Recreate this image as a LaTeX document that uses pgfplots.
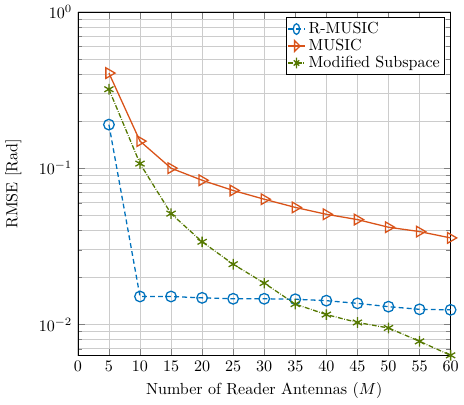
\documentclass[border=0pt]{standalone}
\usepackage{pgfplots}
\pgfplotsset{compat=1.18}
\definecolor{cblue}{RGB}{0,114,189}
\definecolor{corange}{RGB}{217,83,25}
\definecolor{cgreen}{RGB}{85,120,0}
\begin{document}
\begin{tikzpicture}
\begin{axis}[
  scale only axis,
  width=232pt, height=214pt,
  ymode=log,
  xmin=0, xmax=60, ymin=0.00631, ymax=1,
  xtick={0,5,...,60},
  grid=both,
  major grid style={gray!40, line width=0.5pt},
  minor grid style={gray!40, line width=0.5pt},
  tick align=inside,
  xlabel={Number of Reader Antennas ($M$)},
  ylabel={RMSE [Rad]},
  ylabel style={yshift=4pt},
  legend style={at={(0.985,0.985)}, anchor=north east, legend cell align=left, draw=black, fill=white, inner sep=1pt, row sep=-2pt},
  legend image post style={xscale=0.6},
]
\addplot[cblue, densely dashed, thick, mark=o, mark size=3.3pt, mark options={solid}] coordinates {
(5,0.19) (10,0.0151) (15,0.0151) (20,0.0148) (25,0.0146) (30,0.0146) (35,0.0145) (40,0.0142) (45,0.01365) (50,0.0130) (55,0.0125) (60,0.0124)};
\addlegendentry{R-MUSIC}
\addplot[corange, thick, mark=triangle, mark size=3.8pt, mark options={solid, rotate=-90}] coordinates {
(5,0.406) (10,0.149) (15,0.100) (20,0.0837) (25,0.072) (30,0.0633) (35,0.0561) (40,0.0507) (45,0.0469) (50,0.0419) (55,0.0393) (60,0.0358)};
\addlegendentry{MUSIC}
\addplot[cgreen, densely dashdotted, thick, mark=asterisk, mark size=3.3pt, mark options={solid}] coordinates {
(5,0.32) (10,0.107) (15,0.0512) (20,0.0338) (25,0.0243) (30,0.0184) (35,0.0135) (40,0.01157) (45,0.0103) (50,0.0095) (55,0.0078) (60,0.00635)};
\addlegendentry{Modified Subspace}
\end{axis}
\end{tikzpicture}
\end{document}
